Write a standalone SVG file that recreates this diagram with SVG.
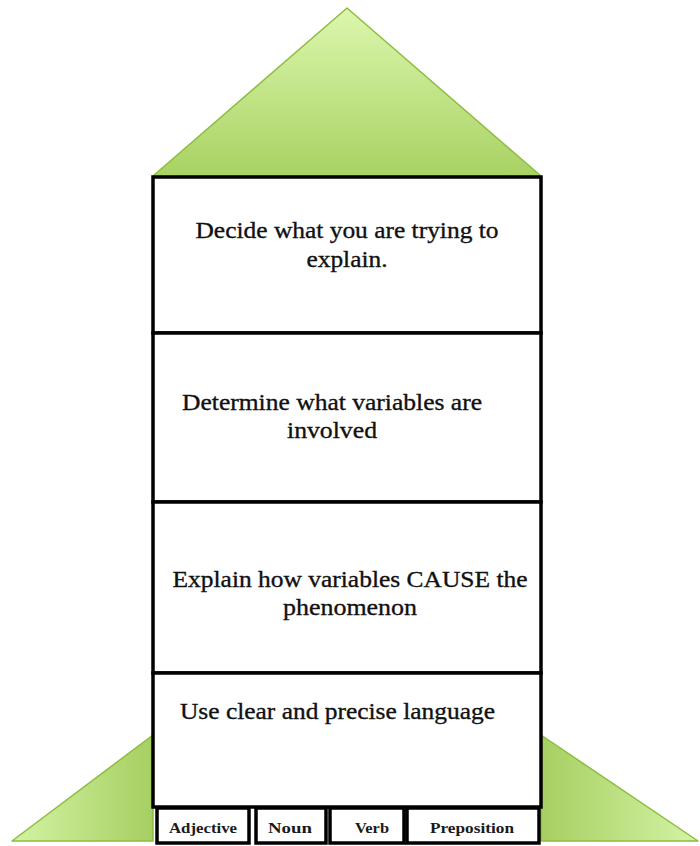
<svg xmlns="http://www.w3.org/2000/svg" width="700" height="846" viewBox="0 0 700 846">
  <defs>
    <linearGradient id="roofFill" x1="0" y1="0" x2="0" y2="1">
      <stop offset="0" stop-color="#dcf7ae"/>
      <stop offset="1" stop-color="#a8d263"/>
    </linearGradient>
    <linearGradient id="finLeft" x1="0" y1="0" x2="1" y2="0">
      <stop offset="0" stop-color="#d4f3a4"/>
      <stop offset="1" stop-color="#a6cf62"/>
    </linearGradient>
    <linearGradient id="finRight" x1="0" y1="0" x2="1" y2="0">
      <stop offset="0" stop-color="#a6cf62"/>
      <stop offset="1" stop-color="#d4f3a4"/>
    </linearGradient>
    <style>
      .fin { stroke: #8dbd3e; stroke-width: 1.5; stroke-linejoin: round; }
      .box { fill: #ffffff; stroke: #000000; stroke-width: 3.5; }
      .tag { fill: #ffffff; stroke: #000000; stroke-width: 3.5; }
      .label { font-family: "Liberation Serif", "Times New Roman", serif; font-size: 24px; fill: #111111; stroke: #111111; stroke-width: 0.35; }
      .small { font-family: "Liberation Serif", "Times New Roman", serif; font-size: 14px; font-weight: bold; fill: #1a1a1a; }
    </style>
  </defs>

  <!-- roof and fins -->
  <g id="roof">
    <polygon class="fin" points="347,8 153,176 541,176" fill="url(#roofFill)"/>
  </g>
  <g id="fin-left">
    <polygon class="fin" points="153,735 153,841 12,841" fill="url(#finLeft)"/>
  </g>
  <g id="fin-right">
    <polygon class="fin" points="541,735 541,841 698,841" fill="url(#finRight)"/>
  </g>

  <!-- step boxes -->
  <g id="step-1">
    <rect class="box" x="153" y="177" width="388" height="156"/>
    <text class="label" x="347" y="238" text-anchor="middle" textLength="303" lengthAdjust="spacingAndGlyphs">Decide what you are trying to</text>
    <text class="label" x="347" y="267" text-anchor="middle" textLength="81" lengthAdjust="spacingAndGlyphs">explain.</text>
  </g>
  <g id="step-2">
    <rect class="box" x="153" y="333" width="388" height="169"/>
    <text class="label" x="332" y="410" text-anchor="middle" textLength="300" lengthAdjust="spacingAndGlyphs">Determine what variables are</text>
    <text class="label" x="332" y="438" text-anchor="middle" textLength="90" lengthAdjust="spacingAndGlyphs">involved</text>
  </g>
  <g id="step-3">
    <rect class="box" x="153" y="502" width="388" height="171"/>
    <text class="label" x="350" y="587" text-anchor="middle" textLength="355" lengthAdjust="spacingAndGlyphs">Explain how variables CAUSE the</text>
    <text class="label" x="350" y="615" text-anchor="middle" textLength="134" lengthAdjust="spacingAndGlyphs">phenomenon</text>
  </g>
  <g id="step-4">
    <rect class="box" x="153" y="673" width="388" height="134"/>
    <text class="label" x="180" y="719" textLength="315" lengthAdjust="spacingAndGlyphs">Use clear and precise language</text>
  </g>

  <!-- word-class tags -->
  <g id="tag-adjective">
    <rect class="tag" x="157" y="808" width="92" height="35"/>
    <text class="small" x="203" y="833" text-anchor="middle" textLength="68" lengthAdjust="spacingAndGlyphs">Adjective</text>
  </g>
  <g id="tag-noun">
    <rect class="tag" x="256" y="808" width="70" height="35"/>
    <text class="small" x="290" y="833" text-anchor="middle" textLength="44" lengthAdjust="spacingAndGlyphs">Noun</text>
  </g>
  <g id="tag-verb">
    <rect class="tag" x="330" y="808" width="74" height="35"/>
    <text class="small" x="372" y="833" text-anchor="middle" textLength="34" lengthAdjust="spacingAndGlyphs">Verb</text>
  </g>
  <g id="tag-preposition">
    <rect class="tag" x="407" y="808" width="132" height="35"/>
    <text class="small" x="472" y="833" text-anchor="middle" textLength="84" lengthAdjust="spacingAndGlyphs">Preposition</text>
  </g>

  <g id="connectors"></g>
</svg>
